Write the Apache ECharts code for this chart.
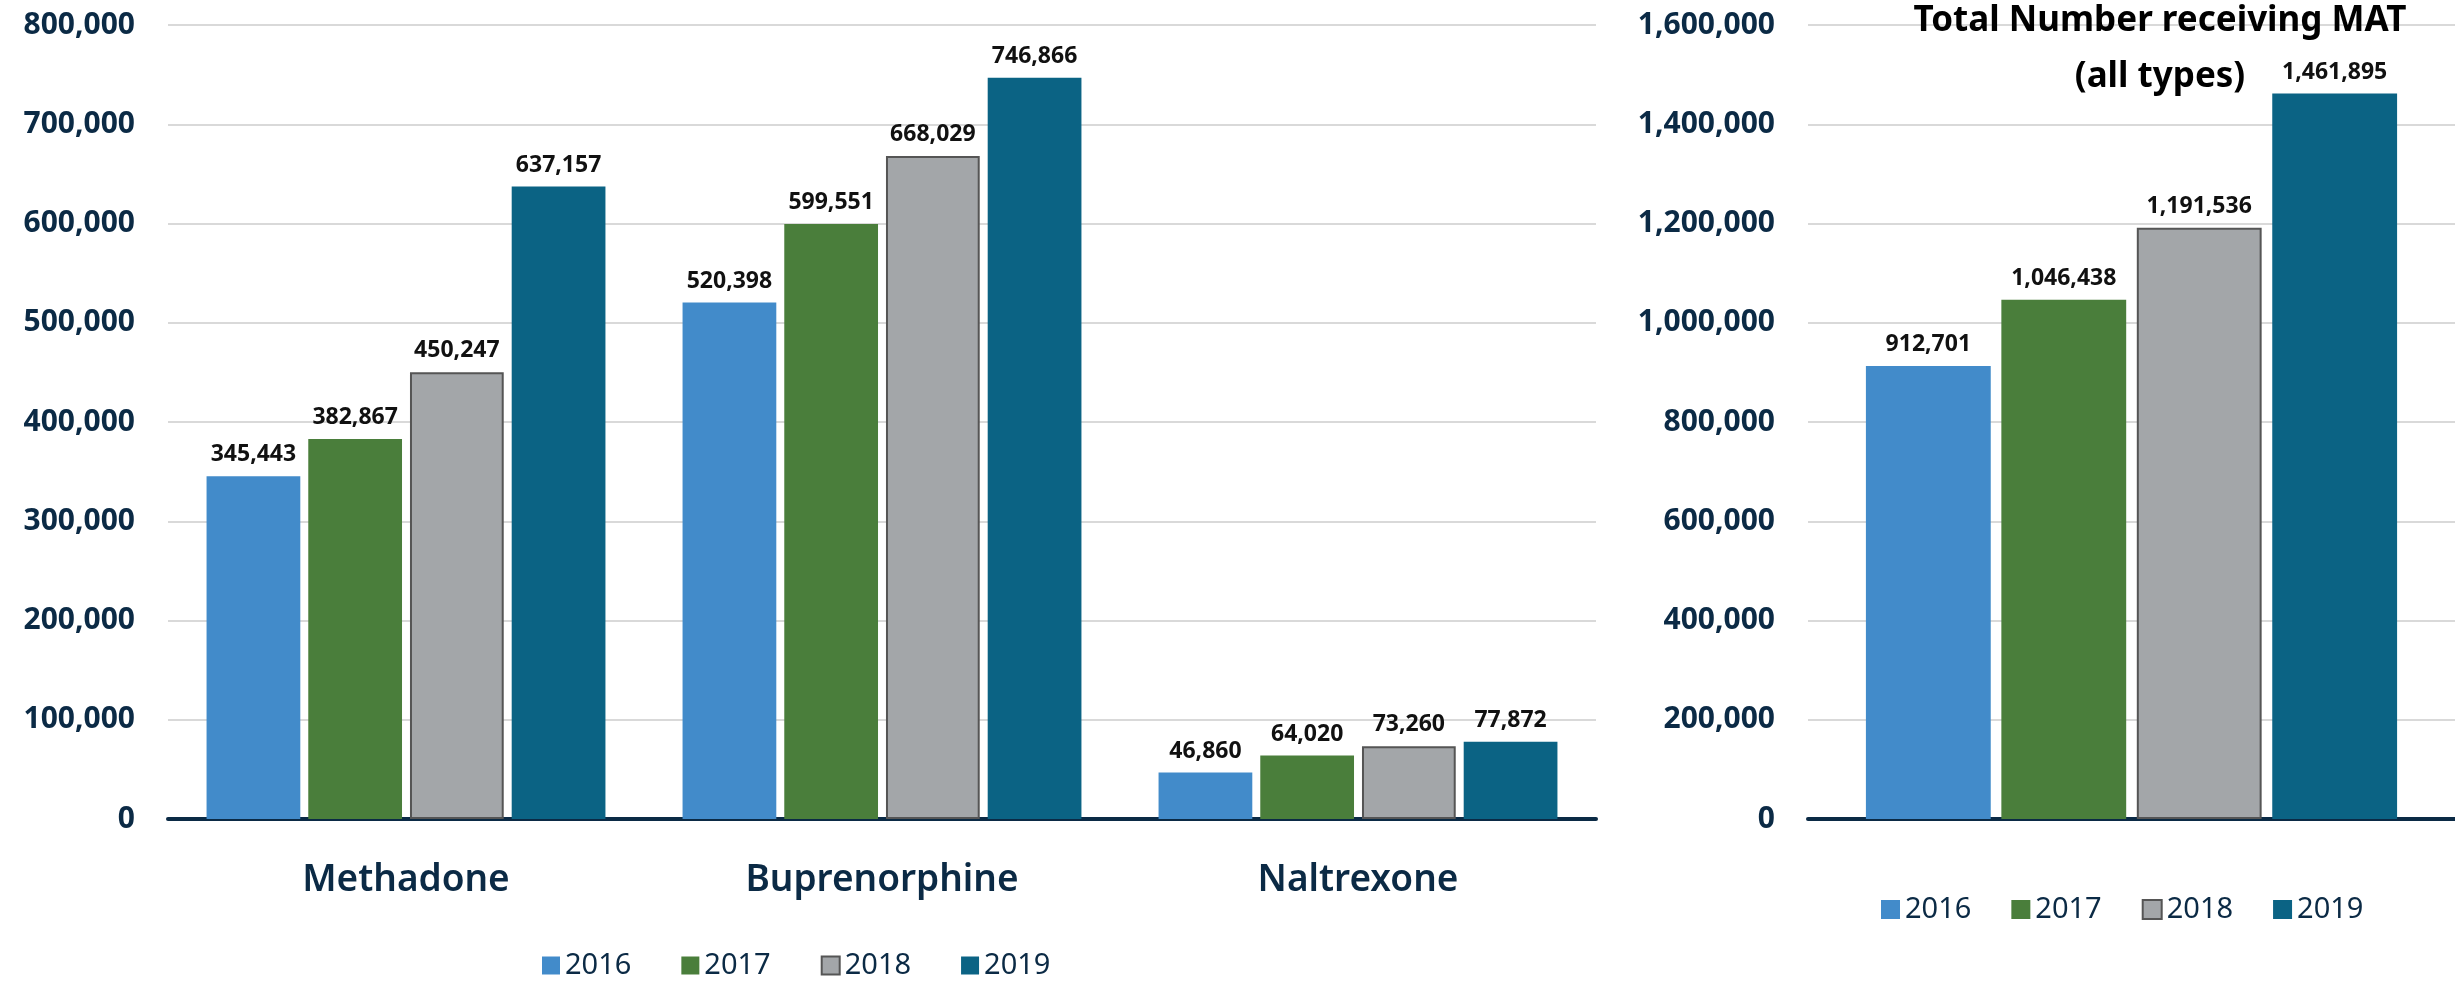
<!DOCTYPE html>
<html>
<head>
<meta charset="utf-8">
<script src="https://cdn.jsdelivr.net/npm/echarts@6/dist/echarts.min.js"></script>
<style>
html,body{margin:0;padding:0;background:#fff;}
#chart{width:2455px;height:982px;}
</style>
</head>
<body>
<div id="chart"></div>
<script>
const categories = ['Methadone', 'Buprenorphine', 'Naltrexone'];
const years = ['2016', '2017', '2018', '2019'];
const v2016 = [345443, 520398, 46860];
const v2017 = [382867, 599551, 64020];
const v2018 = [450247, 668029, 73260];
const v2019 = [637157, 746866, 77872];
const totalCategory = ['Total'];
const total2016 = [912701];
const total2017 = [1046438];
const total2018 = [1191536];
const total2019 = [1461895];
const leftTicks = { min: 0, max: 800000, interval: 100000 };
const rightTicks = { min: 0, max: 1600000, interval: 200000 };

const colors = ['#428BCA', '#4A7E3B', '#A3A6A9', '#0B6384'];
const borders = [null, null, '#555555', null];
const navy = '#0B2A45';
const FONT = 'Noto Sans';
const fmt = v => Number(v).toLocaleString('en-US');

function makeSeries(name, data, idx, axisIdx, gapCat) {
  return {
    name: name, type: 'bar', data: data,
    xAxisIndex: axisIdx, yAxisIndex: axisIdx,
    barGap: '8.5%', barCategoryGap: gapCat,
    itemStyle: {
      color: colors[idx],
      borderColor: borders[idx] || colors[idx],
      borderWidth: borders[idx] ? 2 : 0
    },
    label: {
      show: true, position: 'top', distance: 10,
      formatter: p => fmt(p.value),
      fontFamily: FONT, fontSize: 23, fontWeight: 'bold', color: '#111'
    }
  };
}

const leftData = [v2016, v2017, v2018, v2019];
const rightData = [total2016, total2017, total2018, total2019];

const yAxisCommon = (t) => ({
  type: 'value', min: t.min, max: t.max, interval: t.interval,
  axisLine: { show: false }, axisTick: { show: false },
  axisLabel: { formatter: fmt, fontFamily: FONT, fontSize: 30, fontWeight: 'bold', color: navy, margin: 33 },
  splitLine: { lineStyle: { color: '#D9D9D9', width: 2 } }
});

const option = {
  animation: false,
  title: {
    text: 'Total Number receiving MAT\n(all types)',
    left: 2155, top: -12, textAlign: 'center',
    textStyle: { fontFamily: FONT, fontSize: 35, fontWeight: 'bold', color: '#000', lineHeight: 56 }
  },
  grid: [
    { left: 168, top: 25, width: 1428, bottom: 163 },
    { left: 1808, top: 25, right: 0, bottom: 163 }
  ],
  xAxis: [
    { type: 'category', gridIndex: 0, data: categories,
      axisLine: { lineStyle: { color: navy, width: 4 } }, axisTick: { show: false },
      axisLabel: { fontFamily: FONT, fontSize: 37, fontWeight: 600, color: navy, margin: 43 } },
    { type: 'category', gridIndex: 1, data: totalCategory,
      axisLine: { lineStyle: { color: navy, width: 4 } }, axisTick: { show: false },
      axisLabel: { show: false } }
  ],
  yAxis: [
    Object.assign({ gridIndex: 0 }, yAxisCommon(leftTicks)),
    Object.assign({ gridIndex: 1 }, yAxisCommon(rightTicks))
  ],
  legend: [
    { data: years, left: 542, top: 951, padding: 0, icon: 'rect', itemWidth: 18, itemHeight: 18, itemGap: 50,
      textStyle: { fontFamily: FONT, fontSize: 29, color: navy } },
    { data: years, left: 1881, top: 895, padding: 0, icon: 'rect', itemWidth: 19, itemHeight: 19, itemGap: 40,
      textStyle: { fontFamily: FONT, fontSize: 29, color: navy } }
  ],
  series: []
};
years.forEach((y, i) => option.series.push(makeSeries(y, leftData[i], i, 0, '16.2%')));
years.forEach((y, i) => option.series.push(makeSeries(y, rightData[i], i, 1, '17.9%')));

const chart = echarts.init(document.getElementById('chart'), null, { renderer: 'canvas' });
chart.setOption(option);
</script>
</body>
</html>
